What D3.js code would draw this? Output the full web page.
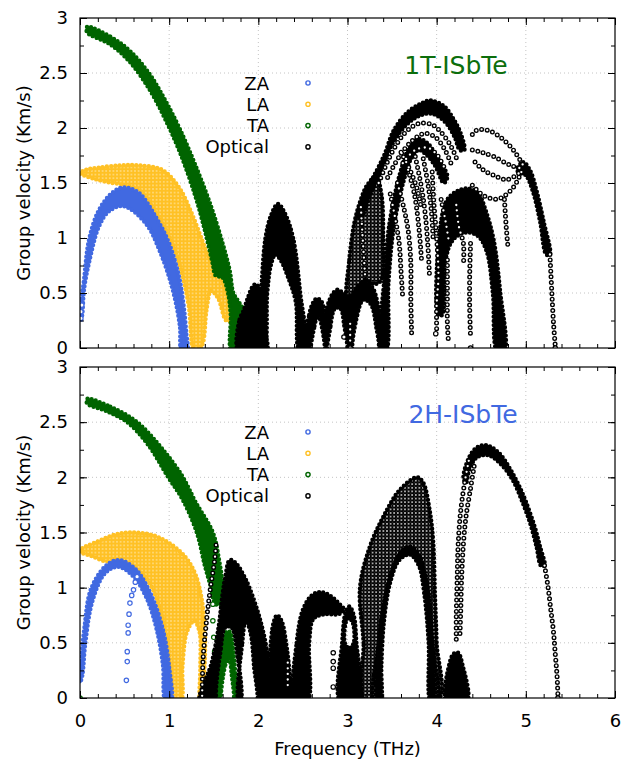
<!DOCTYPE html>
<html>
<head>
<meta charset="utf-8">
<script src="https://cdn.jsdelivr.net/npm/d3@7"></script>
<style>
  body { margin: 0; background: #fff; }
  text { font-family: "DejaVu Sans", sans-serif; }
</style>
</head>
<body>
<svg id="chart" width="622" height="761"></svg>
<script>
// ---- tick labels / legend / titles ----
var xMajor = [0, 1, 2, 3, 4, 5, 6];
var yMajor = [0, 0.5, 1, 1.5, 2, 2.5, 3];
var legendLabels = ["ZA", "LA", "TA", "Optical"];
var panelNames = ["1T-ISbTe", "2H-ISbTe"];

// ---- 1T panel: bands are lists of rings [freq, vel]; ring 0 outline, others holes ----
var t_za = [[
  [0.01,0.25],[0.02,0.45],[0.045,0.62],[0.1,0.98],[0.21,1.25],[0.36,1.41],[0.49,1.46],[0.66,1.41],
  [0.85,1.19],[1.0,0.95],[1.11,0.65],[1.16,0.4],[1.19,0.15],[1.2,-0.03],
  [1.14,-0.03],[1.12,0.2],[1.04,0.53],[0.9,0.87],[0.74,1.13],[0.49,1.29],[0.32,1.24],[0.21,1.1],
  [0.1,0.77],[0.045,0.53],[0.025,0.3]
]];
var t_zaDots = [[0.01,0.27],[0.01,0.33],[0.02,0.39]];
var t_la = [[
  [0,1.59],[0.07,1.62],[0.21,1.64],[0.45,1.66],[0.66,1.66],[0.92,1.62],[1.11,1.46],[1.25,1.23],
  [1.37,0.98],[1.45,0.82],[1.55,0.7],[1.64,0.5],[1.7,0.25],
  [1.64,0.25],[1.55,0.45],[1.47,0.52],[1.42,0.35],[1.38,0.05],[1.33,-0.03],[1.28,-0.03],[1.22,0.38],
  [1.13,0.72],[1.02,0.98],[0.87,1.2],[0.67,1.43],[0.5,1.48],[0.3,1.51],[0.15,1.54],[0.04,1.57]
]];
var t_ta = [[
  [0.08,2.92],[0.34,2.83],[0.56,2.7],[0.78,2.49],[0.95,2.26],[1.12,1.99],[1.29,1.67],[1.46,1.31],
  [1.6,0.95],[1.68,0.7],[1.72,0.5],[1.78,0.42],[1.84,0.33],[1.84,0.1],[1.8,-0.03],[1.7,-0.03],
  [1.69,0.3],[1.66,0.5],[1.6,0.64],[1.52,0.66],[1.49,0.76],[1.4,1.07],[1.29,1.39],[1.12,1.78],
  [0.95,2.09],[0.78,2.35],[0.56,2.6],[0.34,2.76],[0.08,2.87]
]];
var t_opt = [
  [[[1.78,-0.03],[1.79,0.26],[1.83,0.33],[1.88,0.45],[1.93,0.55],[1.97,0.58],[2.01,0.55],[2.05,0.42],[2.08,0.15],[2.09,-0.03]]],
  [[[1.99,-0.03],[2.03,0.5],[2.08,1.0],[2.14,1.2],[2.22,1.31],[2.3,1.22],[2.39,1.0],[2.47,0.5],[2.53,-0.03],
    [2.46,-0.03],[2.42,0.42],[2.33,0.65],[2.25,0.8],[2.19,0.85],[2.14,0.75],[2.1,0.5],[2.06,-0.03]]],
  [[[2.55,-0.03],[2.57,0.3],[2.62,0.42],[2.66,0.45],[2.71,0.42],[2.75,0.32],[2.79,0.42],[2.84,0.5],[2.89,0.53],
    [2.95,0.5],[3.0,0.46],[3.06,0.5],[3.12,0.57],[3.2,0.6],[3.28,0.55],[3.34,0.4],[3.38,0.2],[3.4,-0.03]],
   [[2.6,-0.1],[2.63,0.2],[2.67,0.3],[2.71,0.2],[2.73,-0.1]],
   [[2.79,-0.1],[2.81,0.2],[2.86,0.36],[2.92,0.36],[2.96,0.22],[2.98,-0.1]],
   [[3.08,-0.1],[3.11,0.3],[3.18,0.44],[3.26,0.4],[3.32,0.2],[3.34,-0.1]]],
  [[[3.12,1.2],[3.22,1.45],[3.3,1.57],[3.41,1.75],[3.52,1.98],[3.67,2.14],[3.82,2.22],[3.93,2.25],[4.08,2.2],
    [4.19,2.08],[4.27,1.95],[4.31,1.8],[4.26,1.8],[4.2,1.92],[4.1,2.05],[3.95,2.13],[3.8,2.11],[3.65,2.02],
    [3.5,1.85],[3.38,1.62],[3.25,1.38],[3.15,1.18]]],
  [[[3.37,-0.03],[3.41,0.6],[3.47,1.13],[3.59,1.59],[3.7,1.83],[3.8,1.9],[3.9,1.86],[4.0,1.74],[4.12,1.56],
    [4.08,1.5],[3.98,1.66],[3.88,1.76],[3.8,1.8],[3.72,1.73],[3.63,1.52],[3.52,1.1],[3.46,0.6],[3.43,-0.03]]],
  [[[4.02,0.3],[4.04,1.1],[4.12,1.35],[4.24,1.43],[4.36,1.45],[4.47,1.4],[4.55,1.25],[4.64,0.98],[4.71,0.53],
    [4.76,-0.03],[4.68,-0.03],[4.63,0.5],[4.56,0.88],[4.46,1.02],[4.32,1.05],[4.18,0.98],[4.1,0.8],[4.06,0.3]]],
  [[[4.9,1.62],[4.97,1.69],[5.05,1.61],[5.12,1.43],[5.2,1.15],[5.27,0.85],[5.23,0.85],[5.16,1.15],[5.08,1.42],
    [5.0,1.57],[4.94,1.59]]]
];
var t_optMesh = [
  [[[3.0,0.45],[3.02,0.8],[3.08,1.15],[3.15,1.35],[3.22,1.48],[3.32,1.56],[3.38,1.4],[3.4,1.0],[3.38,0.62],
    [3.3,0.58],[3.2,0.62],[3.1,0.5]]]
];
var t_optChains = [
  [[3.35,1.5],[3.5,1.78],[3.65,1.96],[3.8,2.04],[3.95,2.03],[4.05,1.96],[4.15,1.85],[4.22,1.73]],
  [[3.45,1.55],[3.58,1.74],[3.72,1.88],[3.86,1.95],[3.98,1.92],[4.08,1.82],[4.16,1.68]],
  [[3.62,1.68],[3.76,1.8],[3.9,1.82],[4.0,1.76],[4.08,1.65]],
  [[3.56,1.5],[3.63,1.28],[3.68,1.07],[3.71,0.77],[3.71,0.45],[3.72,0.1]],
  [[3.76,1.74],[3.83,1.46],[3.87,1.23],[3.9,0.95],[3.92,0.65]],
  [[3.68,1.62],[3.75,1.4],[3.8,1.1],[3.83,0.8]],
  [[3.48,1.4],[3.53,1.2],[3.58,0.95],[3.6,0.7],[3.62,0.45]],
  [[3.85,1.72],[3.9,1.5],[3.94,1.25],[3.96,1.0]],
  [[3.6,1.78],[3.7,1.62],[3.78,1.45],[3.82,1.3]],
  [[3.95,1.6],[3.97,1.3],[4.0,1.0],[4.02,0.65],[4.0,0.4],[4.0,0.14]],
  [[4.05,1.35],[4.1,1.15],[4.14,0.95]],
  [[4.22,1.3],[4.25,1.1],[4.3,0.95],[4.3,0.75]],
  [[4.12,0.8],[4.12,0.53],[4.12,0.23],[4.13,0.08]],
  [[4.38,0.95],[4.37,0.65],[4.37,0.37],[4.38,0.1]],
  [[4.76,1.35],[4.78,1.1],[4.8,0.92]],
  [[4.4,1.94],[4.45,1.98],[4.57,1.98],[4.71,1.92],[4.86,1.8],[4.97,1.66]],
  [[4.4,1.8],[4.5,1.78],[4.64,1.74],[4.83,1.66],[4.96,1.63]],
  [[4.43,1.69],[4.52,1.62],[4.64,1.57],[4.79,1.53],[4.94,1.6]],
  [[4.4,1.48],[4.5,1.4],[4.6,1.36],[4.71,1.36],[4.86,1.46],[4.96,1.62]],
  [[5.27,0.85],[5.29,0.53],[5.31,0.23],[5.33,0.02]],
  [[3.15,1.28],[3.17,1.0],[3.19,0.75],[3.2,0.62]],
  [[3.03,0.22],[3.03,0.02]]
];
var t_optDots = [[3.99,0.13],[4.38,0.0],[3.03,0.0],[5.33,0.0],[2.96,0.1]];

// ---- 2H panel ----
var b_za = [[
  [0.0,0.14],[0.01,0.3],[0.05,0.64],[0.12,0.98],[0.28,1.19],[0.43,1.25],[0.62,1.17],[0.8,0.93],[0.93,0.62],
  [1.0,0.28],[1.02,-0.03],[0.96,-0.03],[0.93,0.3],[0.86,0.62],[0.75,0.9],[0.6,1.1],[0.43,1.19],[0.28,1.13],
  [0.14,0.88],[0.06,0.5],[0.025,0.2]
]];
var b_zaDots = [[0.64,1.1],[0.62,1.05],[0.6,0.98],[0.58,0.93],[0.56,0.86],[0.55,0.76],[0.54,0.66],[0.54,0.59],
  [0.53,0.42],[0.53,0.33],[0.52,0.16]];
var b_la = [[
  [0.0,1.34],[0.2,1.42],[0.39,1.48],[0.57,1.5],[0.8,1.48],[0.99,1.41],[1.18,1.28],[1.29,1.13],[1.36,0.92],
  [1.4,0.62],[1.4,0.34],[1.38,0.1],[1.37,-0.03],[1.35,-0.03],[1.35,0.3],[1.34,0.6],[1.28,0.7],[1.2,0.6],
  [1.15,0.3],[1.13,-0.03],[1.05,-0.03],[0.99,0.46],[0.91,0.77],[0.8,1.01],[0.65,1.16],[0.46,1.24],
  [0.28,1.24],[0.12,1.29],[0.01,1.32]
]];
var b_ta = [
  [[[0.08,2.71],[0.34,2.64],[0.64,2.5],[0.9,2.28],[1.14,2.02],[1.3,1.77],[1.49,1.5],[1.56,1.25],[1.6,1.0],
    [1.58,0.85],[1.52,0.85],[1.47,1.0],[1.4,1.2],[1.31,1.5],[1.15,1.8],[0.99,2.0],[0.76,2.3],[0.53,2.5],
    [0.3,2.6],[0.08,2.67]]],
  [[[1.53,-0.03],[1.55,0.3],[1.6,0.5],[1.64,0.6],[1.68,0.6],[1.72,0.42],[1.75,0.1],[1.75,-0.03]],
   [[1.6,-0.1],[1.63,0.3],[1.67,0.36],[1.7,0.22],[1.71,-0.1]]]
];
var b_taDots = [[0,0],[1.49,0.85],[1.49,0.7],[1.5,0.55],[1.51,0.42]];
var b_opt = [
  [[[1.35,-0.03],[1.4,0.15],[1.47,0.3],[1.55,0.62],[1.6,0.95],[1.63,1.1],[1.68,1.25],[1.75,1.22],[1.83,1.12],
    [1.9,1.0],[2.02,0.71],[2.1,0.41],[2.13,0.1],[2.14,-0.03]],
   [[1.56,-0.1],[1.58,0.45],[1.63,0.64],[1.7,0.64],[1.76,0.42],[1.78,-0.1]],
   [[1.8,-0.1],[1.82,0.5],[1.86,0.7],[1.91,0.6],[1.95,0.3],[1.97,-0.1]]],
  [[[2.1,-0.03],[2.13,0.4],[2.17,0.68],[2.21,0.75],[2.26,0.7],[2.32,0.45],[2.36,0.15],[2.38,-0.03]]],
  [[[2.41,-0.03],[2.43,0.5],[2.5,0.8],[2.6,0.93],[2.69,0.96],[2.8,0.93],[2.9,0.86],[2.96,0.8],[2.9,0.76],
    [2.75,0.76],[2.62,0.72],[2.57,0.5],[2.55,-0.03]]],
  [[[2.92,-0.03],[2.94,0.5],[2.98,0.78],[3.02,0.83],[3.07,0.75],[3.1,0.5],[3.13,-0.03]],
   [[2.97,0.5],[3.0,0.72],[3.05,0.7],[3.07,0.5],[3.02,0.45]]],
  [[[3.33,-0.03],[3.35,0.5],[3.42,0.9],[3.52,1.2],[3.62,1.34],[3.7,1.37],[3.78,1.32],[3.86,1.15],[3.92,0.85],
    [3.95,0.5],[3.97,-0.03],[3.93,-0.03],[3.91,0.5],[3.86,0.95],[3.8,1.2],[3.7,1.3],[3.58,1.25],[3.48,1.05],
    [3.41,0.7],[3.38,0.3],[3.37,-0.03]]],
  [[[4.11,-0.03],[4.14,0.3],[4.19,0.4],[4.24,0.41],[4.29,0.3],[4.34,-0.03]]],
  [[[4.3,2.0],[4.37,2.19],[4.45,2.27],[4.56,2.29],[4.7,2.22],[4.82,2.08],[4.92,1.93],[5.0,1.78],[5.1,1.55],
    [5.16,1.37],[5.21,1.2],[5.17,1.2],[5.12,1.37],[5.05,1.58],[4.96,1.78],[4.85,1.98],[4.72,2.12],
    [4.58,2.2],[4.45,2.18],[4.37,2.08],[4.33,1.95]]]
];
var b_optMesh = [
  [[[3.2,-0.03],[3.18,0.5],[3.14,1.0],[3.25,1.37],[3.4,1.64],[3.59,1.89],[3.78,2.0],[3.85,1.95],[3.92,1.71],
    [3.96,1.43],[3.98,0.95],[4.0,0.5],[4.01,-0.03]],
   [[3.97,-0.1],[3.95,0.5],[3.92,0.85],[3.86,1.15],[3.78,1.32],[3.7,1.37],[3.62,1.34],[3.52,1.2],[3.42,0.9],
    [3.35,0.5],[3.33,-0.1]]]
];
var b_optChains = [
  [[1.37,0.02],[1.38,0.35],[1.42,0.71],[1.46,0.98],[1.51,1.25],[1.53,1.43]],
  [[4.36,2.15],[4.32,1.98],[4.27,1.7],[4.24,1.37],[4.23,1.07],[4.22,0.74],[4.22,0.5]],
  [[4.42,2.1],[4.38,1.9],[4.33,1.65],[4.3,1.4],[4.28,1.1],[4.27,0.8],[4.26,0.55]],
  [[5.21,1.2],[5.25,1.0],[5.28,0.8],[5.31,0.6],[5.33,0.4],[5.35,0.2],[5.36,0.02]],
  [[2.33,0.32],[2.33,0.07]]
];
var b_optDots = [[2.84,0.41],[2.84,0.33],[2.84,0.27],[2.84,0.1],[5.36,0.0]];

// ---- colours ----
var cZA = "#4169e1", cLA = "#ffc125", cTA = "#006400", cOpt = "#000000";

var svg = d3.select("#chart");
var defs = svg.append("defs");

// yellow lattice (LA)
var pLA = defs.append("pattern").attr("id", "pLA").attr("patternUnits", "userSpaceOnUse")
  .attr("width", 3.6).attr("height", 3.6);
pLA.append("rect").attr("width", 3.6).attr("height", 3.6).attr("fill", cLA);
pLA.append("circle").attr("cx", 1.8).attr("cy", 1.8).attr("r", 0.7).attr("fill", "#fff6dc");

// black mesh of open circles
var pMesh = defs.append("pattern").attr("id", "pMesh").attr("patternUnits", "userSpaceOnUse")
  .attr("width", 3.6).attr("height", 3.6);
pMesh.append("rect").attr("width", 3.6).attr("height", 3.6).attr("fill", "#fff");
pMesh.append("circle").attr("cx", 1.8).attr("cy", 1.8).attr("r", 1.5)
  .attr("fill", "none").attr("stroke", "#000").attr("stroke-width", 1.4);

var panels = [
  { y0: 348, y1: 18, xLabels: false, name: panelNames[0], nameColor: "#0c6e0c", nameX: 456,
    za: t_za, zaDots: t_zaDots, la: t_la, ta: [t_ta], taDots: [],
    opt: t_opt, optMesh: t_optMesh, optChains: t_optChains, optDots: t_optDots },
  { y0: 698, y1: 367, xLabels: true, name: panelNames[1], nameColor: cZA, nameX: 463,
    za: b_za, zaDots: b_zaDots, la: b_la, ta: b_ta, taDots: b_taDots,
    opt: b_opt, optMesh: b_optMesh, optChains: b_optChains, optDots: b_optDots }
];

var xMinor = d3.range(0, 31).map(function(i) { return i / 5; });
var yMinor = d3.range(0, 13).map(function(i) { return i / 4; });
var fs = 18;

panels.forEach(function(p, i) {
  var x = d3.scaleLinear().domain([0, 6]).range([80, 615]);
  var y = d3.scaleLinear().domain([0, 3]).range([p.y0, p.y1]);
  var g = svg.append("g");

  // dotted grid at major ticks
  g.append("g").selectAll("line").data(xMajor.slice(1, -1)).join("line")
    .attr("x1", function(d) { return x(d); }).attr("x2", function(d) { return x(d); })
    .attr("y1", p.y1).attr("y2", p.y0)
    .attr("stroke", "#c4c4c4").attr("stroke-width", 1).attr("stroke-dasharray", "1,3");
  g.append("g").selectAll("line").data(yMajor.slice(1, -1)).join("line")
    .attr("x1", 80).attr("x2", 615)
    .attr("y1", function(d) { return y(d); }).attr("y2", function(d) { return y(d); })
    .attr("stroke", "#c4c4c4").attr("stroke-width", 1).attr("stroke-dasharray", "1,3");

  var clipId = "clip" + i;
  defs.append("clipPath").attr("id", clipId).append("rect")
    .attr("x", 80).attr("y", p.y1).attr("width", 535).attr("height", p.y0 - p.y1);
  var plot = g.append("g").attr("clip-path", "url(#" + clipId + ")");

  var ring = d3.line().x(function(d) { return x(d[0]); }).y(function(d) { return y(d[1]); })
    .curve(d3.curveCatmullRomClosed.alpha(0.5));
  var open = d3.line().x(function(d) { return x(d[0]); }).y(function(d) { return y(d[1]); })
    .curve(d3.curveCatmullRom.alpha(0.5));
  var bandPath = function(band) { return band.map(function(r) { return ring(r); }).join(""); };

  function drawBands(list, color, fill) {
    plot.append("g").selectAll("path").data(list).join("path")
      .attr("d", bandPath)
      .attr("fill", fill).attr("fill-rule", "evenodd")
      .attr("stroke", color).attr("stroke-width", 4.4)
      .attr("stroke-linecap", "round").attr("stroke-dasharray", "0 4.2");
  }
  function drawChains(list, color) {
    var cg = plot.append("g").attr("fill", "none").attr("stroke-linecap", "round");
    cg.selectAll("path.o").data(list).join("path").attr("class", "o")
      .attr("d", open).attr("stroke", color).attr("stroke-width", 5)
      .attr("stroke-dasharray", "0 5.6");
    cg.selectAll("path.i").data(list).join("path").attr("class", "i")
      .attr("d", open).attr("stroke", "#fff").attr("stroke-width", 2.3)
      .attr("stroke-dasharray", "0 5.6");
  }
  function drawDots(list, color) {
    plot.append("g").selectAll("circle").data(list).join("circle")
      .attr("cx", function(d) { return x(d[0]); }).attr("cy", function(d) { return y(d[1]); })
      .attr("r", 2.2).attr("fill", "#fff").attr("stroke", color).attr("stroke-width", 1.2);
  }

  drawBands([p.la], cLA, "url(#pLA)");
  drawBands([p.za], cZA, cZA);
  drawDots(p.zaDots, cZA);
  drawBands(p.ta, cTA, cTA);
  drawDots(p.taDots, cTA);
  drawBands(p.optMesh, cOpt, "url(#pMesh)");
  drawBands(p.opt, cOpt, cOpt);
  drawChains(p.optChains, cOpt);
  drawDots(p.optDots, cOpt);

  // axes: inward ticks on all four sides
  function styleAxis(a) {
    a.select(".domain").remove();
    a.attr("font-size", fs).attr("font-family", "DejaVu Sans");
    a.selectAll("line").attr("stroke", "#000");
    a.selectAll("text").attr("fill", "#000");
  }
  g.append("g").attr("transform", "translate(0," + p.y0 + ")")
    .call(d3.axisBottom(x).tickValues(xMinor).tickSize(-4).tickFormat("")).call(styleAxis);
  g.append("g").attr("transform", "translate(0," + p.y0 + ")")
    .call(d3.axisBottom(x).tickValues(xMajor).tickSize(-7).tickPadding(16)
      .tickFormat(p.xLabels ? d3.format("~g") : "")).call(styleAxis);
  g.append("g").attr("transform", "translate(0," + p.y1 + ")")
    .call(d3.axisTop(x).tickValues(xMinor).tickSize(-4).tickFormat("")).call(styleAxis);
  g.append("g").attr("transform", "translate(0," + p.y1 + ")")
    .call(d3.axisTop(x).tickValues(xMajor).tickSize(-7).tickFormat("")).call(styleAxis);
  g.append("g").attr("transform", "translate(80,0)")
    .call(d3.axisLeft(y).tickValues(yMinor).tickSize(-4).tickFormat("")).call(styleAxis);
  g.append("g").attr("transform", "translate(80,0)")
    .call(d3.axisLeft(y).tickValues(yMajor).tickSize(-7).tickPadding(12)
      .tickFormat(d3.format("~g"))).call(styleAxis);
  g.append("g").attr("transform", "translate(615,0)")
    .call(d3.axisRight(y).tickValues(yMinor).tickSize(-4).tickFormat("")).call(styleAxis);
  g.append("g").attr("transform", "translate(615,0)")
    .call(d3.axisRight(y).tickValues(yMajor).tickSize(-7).tickFormat("")).call(styleAxis);

  g.append("rect").attr("x", 80).attr("y", p.y1).attr("width", 535).attr("height", p.y0 - p.y1)
    .attr("fill", "none").attr("stroke", "#000").attr("stroke-width", 1.2);

  // y title
  g.append("text")
    .attr("transform", "translate(30," + ((p.y0 + p.y1) / 2) + ")rotate(-90)")
    .attr("text-anchor", "middle").attr("font-size", fs)
    .text("Group velocity (Km/s)");

  // legend
  var colors = [cZA, cLA, cTA, cOpt];
  var leg = g.append("g");
  leg.selectAll("text").data(legendLabels).join("text")
    .attr("x", 269).attr("y", function(d, k) { return p.y1 + 65 + k * 21.3 + 6.5; })
    .attr("text-anchor", "end").attr("font-size", fs).text(function(d) { return d; });
  leg.selectAll("circle").data(legendLabels).join("circle")
    .attr("cx", 308).attr("cy", function(d, k) { return p.y1 + 65 + k * 21.3; })
    .attr("r", 2.1).attr("fill", "#fff")
    .attr("stroke", function(d, k) { return colors[k]; }).attr("stroke-width", 1.4);

  // panel name
  g.append("text").attr("x", p.nameX).attr("y", p.y1 + 56)
    .attr("text-anchor", "middle").attr("font-size", 25).attr("fill", p.nameColor)
    .text(p.name);
});

svg.append("text").attr("x", 347.5).attr("y", 755).attr("text-anchor", "middle")
  .attr("font-size", fs).text("Frequency (THz)");
</script>
</body>
</html>
